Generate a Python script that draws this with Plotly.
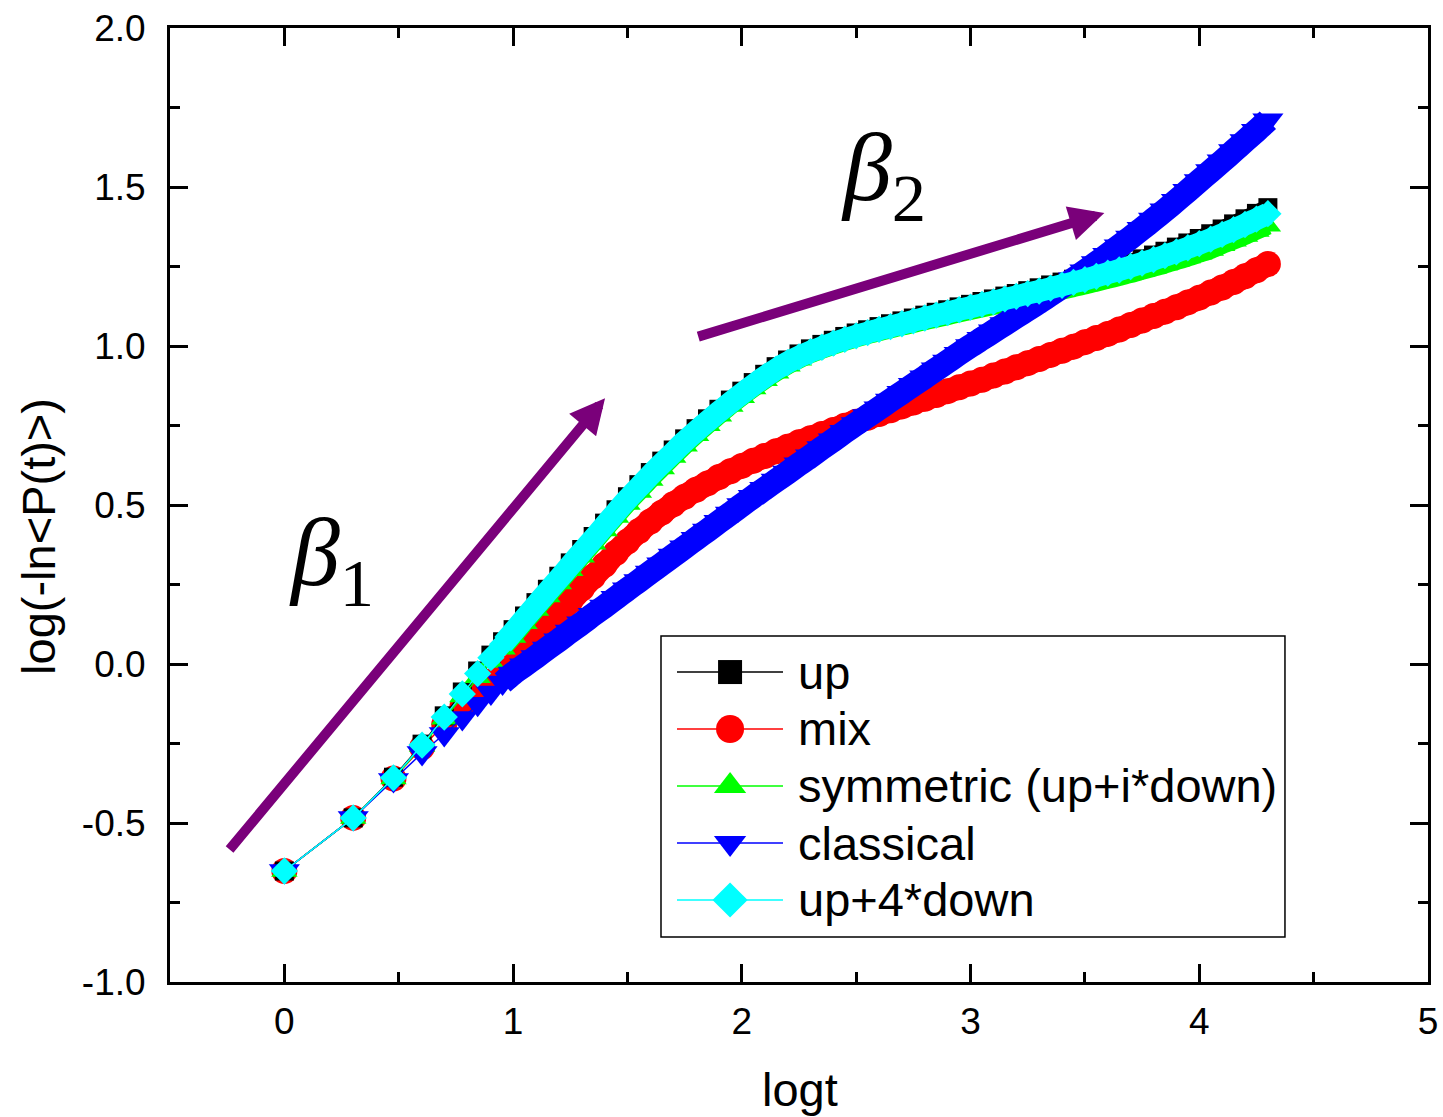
import plotly.graph_objects as go

# log10 of time (first ten steps are t = 1..10, then a denser sampling)
LOGT = [0.0, 0.301, 0.477, 0.602, 0.699, 0.778, 0.845, 0.903, 0.954,
        1.00, 1.05, 1.10, 1.15, 1.20, 1.25, 1.30, 1.35, 1.40, 1.45,
        1.50, 1.55, 1.60, 1.65, 1.70, 1.75, 1.80, 1.85, 1.90, 1.95,
        2.00, 2.05, 2.10, 2.15, 2.20, 2.25, 2.30, 2.35, 2.40, 2.45,
        2.50, 2.55, 2.60, 2.65, 2.70, 2.75, 2.80, 2.85, 2.90, 2.95,
        3.00, 3.05, 3.10, 3.15, 3.20, 3.25, 3.30, 3.35, 3.40, 3.45,
        3.50, 3.55, 3.60, 3.65, 3.70, 3.75, 3.80, 3.85, 3.90, 3.95,
        4.00, 4.05, 4.10, 4.15, 4.20, 4.25, 4.30]

UP = [-0.651, -0.484, -0.356, -0.252, -0.163, -0.088, -0.022, 0.028, 0.070,
      0.108, 0.151, 0.193, 0.235, 0.276, 0.318, 0.360, 0.401, 0.443, 0.485,
      0.526, 0.564, 0.602, 0.638, 0.673, 0.708, 0.740, 0.771, 0.801, 0.830,
      0.858, 0.885, 0.911, 0.935, 0.956, 0.975, 0.991, 1.005, 1.018, 1.030,
      1.041, 1.051, 1.061, 1.070, 1.079, 1.088, 1.097, 1.106, 1.114, 1.123,
      1.131, 1.140, 1.148, 1.157, 1.165, 1.174, 1.183, 1.192, 1.201, 1.210,
      1.220, 1.230, 1.240, 1.251, 1.262, 1.274, 1.286, 1.298, 1.311, 1.324,
      1.338, 1.353, 1.368, 1.384, 1.400, 1.417, 1.435]

MIX = [-0.651, -0.484, -0.360, -0.262, -0.190, -0.135, -0.090, -0.055, -0.030,
       -0.005, 0.035, 0.075, 0.117, 0.158, 0.198, 0.237, 0.275, 0.312, 0.350,
       0.385, 0.418, 0.448, 0.476, 0.502, 0.526, 0.548, 0.568, 0.588, 0.606,
       0.623, 0.639, 0.654, 0.669, 0.683, 0.697, 0.710, 0.723, 0.736, 0.749,
       0.762, 0.774, 0.786, 0.798, 0.810, 0.822, 0.834, 0.846, 0.858, 0.870,
       0.882, 0.894, 0.907, 0.920, 0.933, 0.946, 0.959, 0.972, 0.985, 0.998,
       1.012, 1.025, 1.038, 1.052, 1.066, 1.080, 1.094, 1.108, 1.122, 1.137,
       1.152, 1.168, 1.184, 1.201, 1.219, 1.238, 1.258]

SYMMETRIC = [-0.651, -0.484, -0.360, -0.258, -0.172, -0.102, -0.042, 0.006, 0.048,
             0.085, 0.128, 0.170, 0.212, 0.253, 0.295, 0.337, 0.378, 0.420, 0.462,
             0.503, 0.541, 0.579, 0.615, 0.651, 0.686, 0.719, 0.751, 0.781, 0.811,
             0.839, 0.866, 0.892, 0.916, 0.938, 0.957, 0.974, 0.988, 1.001, 1.013,
             1.024, 1.034, 1.043, 1.052, 1.061, 1.069, 1.078, 1.086, 1.094, 1.102,
             1.110, 1.118, 1.126, 1.134, 1.142, 1.150, 1.158, 1.166, 1.174, 1.182,
             1.190, 1.199, 1.208, 1.217, 1.226, 1.236, 1.246, 1.256, 1.267, 1.278,
             1.290, 1.302, 1.317, 1.331, 1.346, 1.362, 1.378]

CLASSICAL = [-0.651, -0.484, -0.365, -0.280, -0.220, -0.170, -0.125, -0.090, -0.058,
             -0.030, -0.004, 0.022, 0.049, 0.075, 0.102, 0.128, 0.155, 0.181, 0.208,
             0.235, 0.261, 0.288, 0.314, 0.341, 0.367, 0.394, 0.420, 0.447, 0.473,
             0.500, 0.526, 0.551, 0.577, 0.602, 0.628, 0.653, 0.679, 0.704, 0.730,
             0.755, 0.780, 0.804, 0.829, 0.853, 0.878, 0.902, 0.927, 0.951, 0.976,
             1.000, 1.023, 1.046, 1.069, 1.092, 1.115, 1.138, 1.162, 1.186, 1.210,
             1.235, 1.261, 1.287, 1.314, 1.341, 1.369, 1.398, 1.427, 1.457, 1.488,
             1.519, 1.550, 1.581, 1.613, 1.645, 1.677, 1.710]

UP_4DOWN = [-0.651, -0.484, -0.358, -0.255, -0.167, -0.094, -0.030, 0.020, 0.062,
            0.100, 0.143, 0.185, 0.227, 0.268, 0.310, 0.352, 0.393, 0.435, 0.477,
            0.518, 0.556, 0.594, 0.630, 0.665, 0.700, 0.732, 0.763, 0.793, 0.822,
            0.850, 0.877, 0.903, 0.927, 0.948, 0.966, 0.982, 0.996, 1.009, 1.021,
            1.032, 1.042, 1.052, 1.061, 1.070, 1.079, 1.088, 1.097, 1.105, 1.114,
            1.122, 1.131, 1.139, 1.148, 1.156, 1.165, 1.173, 1.182, 1.191, 1.200,
            1.209, 1.219, 1.229, 1.239, 1.250, 1.261, 1.272, 1.284, 1.296, 1.309,
            1.322, 1.336, 1.351, 1.366, 1.382, 1.399, 1.416]

SERIES_NAMES = ["up", "mix", "symmetric (up+i*down)", "classical", "up+4*down"]
SERIES_VALUES = [UP, MIX, SYMMETRIC, CLASSICAL, UP_4DOWN]
SERIES_COLORS = ["#000000", "#ff0000", "#00ff00", "#0000ff", "#00ffff"]
SERIES_SYMBOLS = ["square", "circle", "triangle-up", "triangle-down", "diamond"]
MARKER_SIZES = [19, 26, 23, 27, 21]
BAND_WIDTHS = [17, 24, 18, 24, 22]
KEY_MARKER_SIZES = [24, 28, 28, 28, 27]
DRAW_ORDER = [1, 0, 2, 3, 4]  # mix sits underneath the other series
DENSE_FROM = 8  # index where the samples become dense enough to merge into a band

X_TICKS = [0, 1, 2, 3, 4, 5]
X_TICK_LABELS = ["0", "1", "2", "3", "4", "5"]
Y_TICKS = [-1.0, -0.5, 0.0, 0.5, 1.0, 1.5, 2.0]
Y_TICK_LABELS = ["-1.0", "-0.5", "0.0", "0.5", "1.0", "1.5", "2.0"]

SANS = "Liberation Sans, Arial, sans-serif"
SERIF = "Liberation Serif, DejaVu Serif, serif"
PURPLE = "#7a007a"

fig = go.Figure()

for i in DRAW_ORDER:
    name, vals, col = SERIES_NAMES[i], SERIES_VALUES[i], SERIES_COLORS[i]
    # dense part of the series: the overlapping symbols form a solid band
    fig.add_trace(go.Scatter(
        x=LOGT[DENSE_FROM:], y=vals[DENSE_FROM:], mode="lines",
        line=dict(color=col, width=BAND_WIDTHS[i], shape="spline", smoothing=0.8),
        hoverinfo="skip", showlegend=False, cliponaxis=False,
    ))
    fig.add_trace(go.Scatter(
        x=LOGT, y=vals, name=name, mode="lines+markers",
        line=dict(color=col, width=1.5),
        marker=dict(symbol=SERIES_SYMBOLS[i], size=MARKER_SIZES[i], color=col,
                    opacity=1, line=dict(width=0)),
        showlegend=False, cliponaxis=False,
    ))

# Key box drawn on an overlay axis spanning the plot area (0..1 in both directions)
KEY_ROW_Y = [0.3249, 0.2652, 0.2055, 0.1457, 0.0860]
KEY_LINE_X = [0.4030, 0.4452, 0.4873]
KEY_TEXT_X = 0.4976

for name, col, sym, ks, ry in zip(SERIES_NAMES, SERIES_COLORS, SERIES_SYMBOLS,
                                  KEY_MARKER_SIZES, KEY_ROW_Y):
    fig.add_trace(go.Scatter(
        x=KEY_LINE_X, y=[ry, ry, ry], mode="lines+markers",
        xaxis="x2", yaxis="y2", hoverinfo="skip", showlegend=False,
        line=dict(color=col, width=1.5),
        marker=dict(symbol=sym, size=[0, ks, 0], color=col, opacity=1,
                    line=dict(width=0)),
    ))

annotations = []
for name, ry in zip(SERIES_NAMES, KEY_ROW_Y):
    annotations.append(dict(
        xref="paper", yref="paper", x=KEY_TEXT_X, y=ry, text=name,
        showarrow=False, xanchor="left", yanchor="middle",
        font=dict(family=SANS, size=47, color="#000000"),
    ))

# Slope arrows
annotations.append(dict(
    xref="x", yref="y", axref="x", ayref="y",
    x=1.402, y=0.836, ax=-0.245, ay=-0.588, text="",
    showarrow=True, arrowhead=2, arrowsize=0.7, arrowwidth=10, arrowcolor=PURPLE,
))
annotations.append(dict(
    xref="x", yref="y", axref="x", ayref="y",
    x=3.585, y=1.418, ax=1.803, ay=1.028, text="",
    showarrow=True, arrowhead=2, arrowsize=0.7, arrowwidth=10, arrowcolor=PURPLE,
))

# Exponent labels
annotations.append(dict(
    xref="paper", yref="paper", x=0.128, y=0.443, text="<i>β</i><sub>1</sub>",
    showarrow=False, xanchor="center", yanchor="middle",
    font=dict(family=SERIF, size=98, color="#000000"),
))
annotations.append(dict(
    xref="paper", yref="paper", x=0.5668, y=0.846, text="<i>β</i><sub>2</sub>",
    showarrow=False, xanchor="center", yanchor="middle",
    font=dict(family=SERIF, size=98, color="#000000"),
))

# Axis titles
annotations.append(dict(
    xref="paper", yref="paper", x=0.5008, y=-0.1132, text="logt",
    showarrow=False, xanchor="center", yanchor="middle",
    font=dict(family=SANS, size=47, color="#000000"),
))
annotations.append(dict(
    xref="paper", yref="paper", x=-0.1050, y=0.4675, text="log(-ln<P(t)>)",
    showarrow=False, xanchor="center", yanchor="middle", textangle=-90,
    font=dict(family=SANS, size=47, color="#000000"),
))

fig.update_layout(
    width=1443, height=1117,
    margin=dict(l=170, r=15, t=28, b=135, autoexpand=False),
    paper_bgcolor="#ffffff", plot_bgcolor="#ffffff",
    showlegend=False,
    font=dict(family=SANS, color="#000000"),
    xaxis=dict(
        range=[-0.5, 5], tickvals=X_TICKS, ticktext=X_TICK_LABELS,
        showgrid=False, zeroline=False, automargin=False,
        showline=True, linewidth=3, linecolor="#000000", mirror="ticks",
        ticks="inside", ticklen=18, tickwidth=2.5, tickcolor="#000000",
        minor=dict(dtick=0.5, ticks="inside", ticklen=10, tickwidth=2.5,
                   tickcolor="#000000", showgrid=False),
        tickfont=dict(family=SANS, size=37), ticklabelstandoff=5,
    ),
    yaxis=dict(
        range=[-1, 2], tickvals=Y_TICKS, ticktext=Y_TICK_LABELS,
        showgrid=False, zeroline=False, automargin=False,
        showline=True, linewidth=3, linecolor="#000000", mirror="ticks",
        ticks="inside", ticklen=18, tickwidth=2.5, tickcolor="#000000",
        minor=dict(dtick=0.25, ticks="inside", ticklen=10, tickwidth=2.5,
                   tickcolor="#000000", showgrid=False),
        tickfont=dict(family=SANS, size=37), ticklabelstandoff=14,
    ),
    xaxis2=dict(range=[0, 1], overlaying="x", visible=False, fixedrange=True),
    yaxis2=dict(range=[0, 1], overlaying="y", visible=False, fixedrange=True),
    shapes=[dict(
        type="rect", xref="paper", yref="paper",
        x0=0.3903, x1=0.8863, y0=0.0472, y1=0.3627,
        line=dict(color="#000000", width=1.5), fillcolor="rgba(0,0,0,0)",
        layer="below",
    )],
    annotations=annotations,
)

fig.write_html("out.html")
